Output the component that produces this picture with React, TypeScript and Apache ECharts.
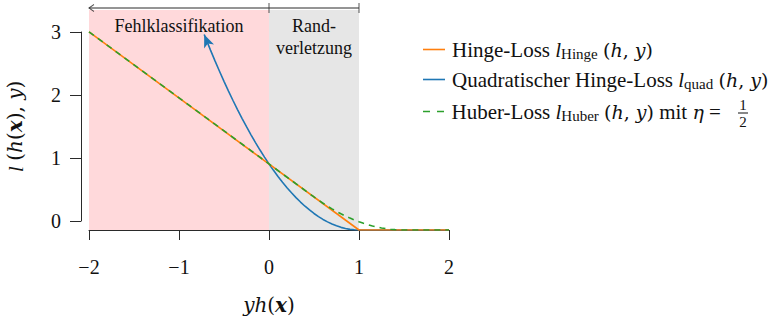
import React, { useEffect, useRef } from "react";
import * as echarts from "echarts";

// Loss curves sampled along yh(x)
const hingeX = [-2, 1, 2];
const hingeY = [3, 0, 0];
const quadX = [
  -0.72, -0.65, -0.6, -0.55, -0.5, -0.45, -0.4, -0.35, -0.3, -0.25, -0.2, -0.15, -0.1, -0.05,
  0, 0.05, 0.1, 0.15, 0.2, 0.25, 0.3, 0.35, 0.4, 0.45, 0.5, 0.55, 0.6, 0.65, 0.7, 0.75, 0.8,
  0.85, 0.9, 0.95, 1, 2,
];
const quadY = [
  2.958, 2.723, 2.56, 2.403, 2.25, 2.103, 1.96, 1.823, 1.69, 1.563, 1.44, 1.323, 1.21, 1.103,
  1, 0.903, 0.81, 0.723, 0.64, 0.563, 0.49, 0.423, 0.36, 0.303, 0.25, 0.203, 0.16, 0.123, 0.09,
  0.063, 0.04, 0.023, 0.01, 0.003, 0, 0,
];
const huberX = [
  -2, 0.5, 0.55, 0.6, 0.65, 0.7, 0.75, 0.8, 0.85, 0.9, 0.95, 1.0, 1.05, 1.1, 1.15, 1.2, 1.25,
  1.3, 1.35, 1.4, 1.45, 1.5, 2,
];
const huberY = [
  3, 0.5, 0.451, 0.405, 0.361, 0.32, 0.281, 0.245, 0.211, 0.18, 0.151, 0.125, 0.101, 0.08,
  0.061, 0.045, 0.031, 0.02, 0.011, 0.005, 0.001, 0, 0,
];

// Axis ticks
const xTicks = [-2, -1, 0, 1, 2];
const yTicks = [0, 1, 2, 3];

// Shaded regions along yh(x)
const regionNames = ["Fehlklassifikation", "Rand-\nverletzung"];
const regionBounds = [[-2, 0], [0, 1]];
const regionTop = 3.33;
const bracketLevel = 3.36;
const bracketTicks = [0, 1];

const seriesNames = ["Hinge-Loss", "Quadratischer Hinge-Loss", "Huber-Loss"];
const etaNumerator = "1";
const etaDenominator = "2";

const SERIF = "Liberation Serif";
const MATH = "DejaVu Serif";
const INK = "#111111";
const AXIS = "#2a2a2a";
const C_HINGE = "#ff7f0e";
const C_QUAD = "#1f77b4";
const C_HUBER = "#2ca02c";

const zip = (xs: number[], ys: number[]) => xs.map((x, i) => [x, ys[i]]);

const mathRich = (size: number, mathSize: number, subSize: number) => ({
  t: { fontFamily: SERIF, fontSize: size, color: INK },
  i: { fontFamily: SERIF, fontSize: size, fontStyle: "italic", color: INK },
  m: { fontFamily: MATH, fontSize: mathSize, fontStyle: "italic", color: INK },
  p: { fontFamily: MATH, fontSize: mathSize, color: INK },
  b: { fontFamily: MATH, fontSize: mathSize, fontStyle: "italic", fontWeight: "bold", color: INK },
  s: { fontFamily: SERIF, fontSize: subSize, color: INK, padding: [9, 0, 0, 0] },
});

const legendLabels: Record<string, string> = {
  "Hinge-Loss": "{t|Hinge-Loss }{i|l}{s|Hinge}{t| }{p|(}{m|h}{p|, }{m|y}{p|)}",
  "Quadratischer Hinge-Loss":
    "{t|Quadratischer Hinge-Loss }{i|l}{s|quad}{t| }{p|(}{m|h}{p|, }{m|y}{p|)}",
  "Huber-Loss": "{t|Huber-Loss }{i|l}{s|Huber}{t| }{p|(}{m|h}{p|, }{m|y}{p|)}{t| mit }{m|η}{t| = }",
};
const legendIcons = [
  "path://M0,0H22V1.6H0Z",
  "path://M0,0H22V1.6H0Z",
  "path://M0,0H7V1.6H0Z M14,0H21V1.6H14Z",
];
const legendColors = [C_HINGE, C_QUAD, C_HUBER];
const legendCenters = [50, 80, 112];

const minus = (v: number) => (v < 0 ? "\u2212" + Math.abs(v) : String(v));

function buildOption() {
  const quadData: any[] = zip(quadX, quadY);
  quadData[0] = {
    value: quadData[0],
    symbol: "arrow",
    symbolSize: [8, 13],
    symbolRotate: 22,
    itemStyle: { color: C_QUAD },
  };

  const bracketData: any[] = [
    [regionBounds[0][0], bracketLevel],
    [regionBounds[1][1], bracketLevel],
  ];

  const fracX = 743;
  const fracY = 112;
  const fracText = (text: string, y: number) => ({
    type: "text",
    x: fracX,
    y,
    z: 100,
    style: {
      text,
      font: `15px ${SERIF}`,
      fill: INK,
      stroke: "none",
      opacity: 1,
      align: "center",
      verticalAlign: "middle",
    },
  });

  return {
    animation: false,
    textStyle: { fontFamily: SERIF },
    grid: [
      { left: 89, top: 8, width: 360, height: 222 },
      { left: 89, top: 32, width: 360, height: 198 },
    ],
    xAxis: [
      { gridIndex: 0, type: "value", min: xTicks[0], max: xTicks[xTicks.length - 1], show: false },
      {
        gridIndex: 1,
        type: "value",
        min: xTicks[0],
        max: xTicks[xTicks.length - 1],
        interval: 1,
        offset: 9,
        axisLine: { show: true, onZero: false, lineStyle: { color: AXIS, width: 1 } },
        axisTick: { show: true, length: 10, inside: false, lineStyle: { color: AXIS } },
        axisLabel: {
          margin: 27,
          fontFamily: SERIF,
          fontSize: 20,
          color: INK,
          alignMinLabel: "center",
          alignMaxLabel: "center",
          formatter: (v: number) => minus(v),
        },
        splitLine: { show: false },
        name: "{m|yh}{p|(}{b|x}{p|)}",
        nameLocation: "middle",
        nameGap: 65,
        nameTextStyle: { rich: mathRich(22, 20, 15) },
      },
    ],
    yAxis: [
      { gridIndex: 0, type: "value", min: 0, max: bracketLevel, show: false },
      {
        gridIndex: 1,
        type: "value",
        min: yTicks[0],
        max: yTicks[yTicks.length - 1],
        interval: 1,
        offset: 8,
        axisLine: { show: true, onZero: false, lineStyle: { color: AXIS, width: 1 } },
        axisTick: { show: true, length: 11, inside: false, lineStyle: { color: AXIS } },
        axisLabel: {
          margin: 20,
          fontFamily: SERIF,
          fontSize: 20,
          color: INK,
          verticalAlignMinLabel: "middle",
          verticalAlignMaxLabel: "middle",
        },
        splitLine: { show: false },
        name: "{i|l}{t| }{p|(}{m|h}{p|(}{b|x}{p|), }{m|y}{p|)}",
        nameLocation: "middle",
        nameRotate: 90,
        nameGap: 55,
        nameTextStyle: { rich: mathRich(22, 20, 15) },
      },
    ],
    legend: seriesNames.map((name, k) => ({
      data: [{ name, icon: legendIcons[k], itemStyle: { color: legendColors[k] } }],
      left: 423,
      top: legendCenters[k] - 11,
      padding: 0,
      itemWidth: 22,
      itemHeight: 1.6,
      itemGap: 0,
      selectedMode: false,
      textStyle: {
        fontFamily: SERIF,
        fontSize: 21,
        color: INK,
        rich: mathRich(21, 19, 15),
        padding: [0, 0, 0, 2],
      },
      formatter: (n: string) => legendLabels[n],
    })),
    graphic: [
      fracText(etaNumerator, fracY - 7.5),
      {
        type: "rect",
        z: 100,
        shape: { x: fracX - 5, y: fracY + 0.5, width: 10, height: 1 },
        style: { fill: INK },
      },
      fracText(etaDenominator, fracY + 10),
    ],
    series: [
      {
        name: "bracket",
        type: "line",
        xAxisIndex: 0,
        yAxisIndex: 0,
        data: bracketData,
        symbol: "none",
        clip: false,
        lineStyle: { color: AXIS, width: 1 },
        silent: true,
        z: 1,
        markArea: {
          silent: true,
          data: regionBounds.map((b, k) => [
            {
              name: regionNames[k],
              xAxis: b[0],
              yAxis: 0,
              itemStyle: { color: k === 0 ? "#ffd9db" : "#e6e6e6" },
            },
            { xAxis: b[1], yAxis: regionTop },
          ]),
          label: {
            show: true,
            position: "insideTop",
            distance: 5,
            fontFamily: SERIF,
            fontSize: 18,
            lineHeight: 22,
            color: INK,
          },
        },
      },
      {
        name: "bracketTicks",
        type: "scatter",
        xAxisIndex: 0,
        yAxisIndex: 0,
        data: bracketTicks.map((x) => [x, bracketLevel]),
        symbol: "rect",
        symbolSize: [1, 10],
        itemStyle: { color: AXIS },
        clip: false,
        silent: true,
        z: 1,
      },
      {
        name: "bracketArrow",
        type: "scatter",
        xAxisIndex: 0,
        yAxisIndex: 0,
        data: [[regionBounds[0][0], bracketLevel]],
        symbol: "path://M6,0 L0,4 L6,8",
        symbolSize: [5, 7],
        symbolOffset: [2.5, 0],
        itemStyle: { color: "transparent", borderColor: AXIS, borderWidth: 1 },
        clip: false,
        silent: true,
        z: 1,
      },
      {
        name: seriesNames[1],
        type: "line",
        xAxisIndex: 0,
        yAxisIndex: 0,
        data: quadData,
        symbol: "none",
        showSymbol: true,
        color: C_QUAD,
        lineStyle: { color: C_QUAD, width: 1.6 },
        z: 3,
      },
      {
        name: seriesNames[0],
        type: "line",
        xAxisIndex: 0,
        yAxisIndex: 0,
        data: zip(hingeX, hingeY),
        symbol: "none",
        color: C_HINGE,
        lineStyle: { color: C_HINGE, width: 1.6 },
        z: 4,
      },
      {
        name: seriesNames[2],
        type: "line",
        xAxisIndex: 0,
        yAxisIndex: 0,
        data: zip(huberX, huberY),
        symbol: "none",
        color: C_HUBER,
        lineStyle: { color: C_HUBER, width: 1.6, type: [6, 5] },
        z: 5,
      },
    ],
  };
}

export default function App() {
  const ref = useRef<HTMLDivElement>(null);
  useEffect(() => {
    const chart = echarts.init(ref.current!, null, { renderer: "svg" });
    chart.setOption(buildOption() as any);
    return () => chart.dispose();
  }, []);
  return (
    <div
      ref={ref}
      style={{ position: "fixed", left: 0, top: 0, width: 778, height: 320, background: "#fff" }}
    />
  );
}
